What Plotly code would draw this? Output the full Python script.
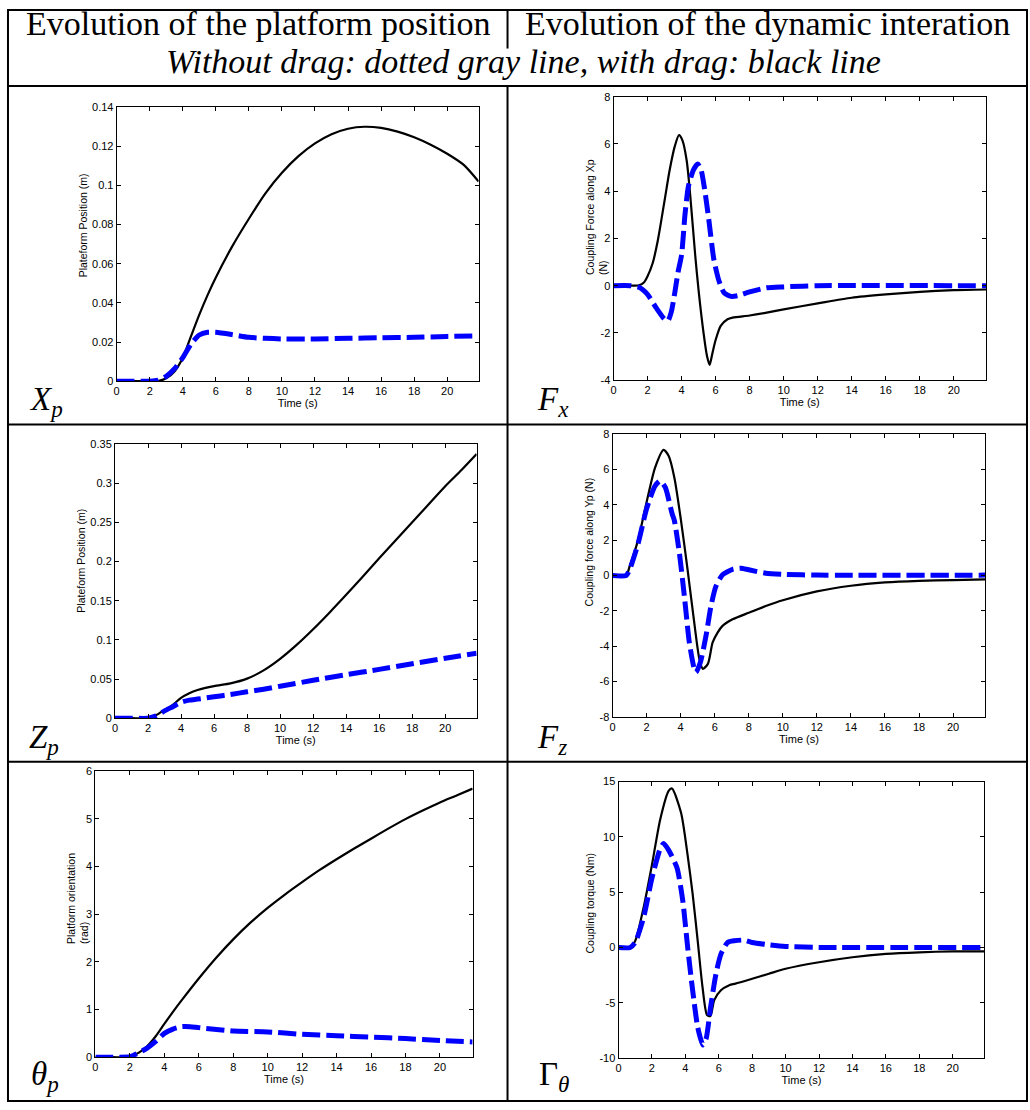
import plotly.graph_objects as go

# ---------------- data ----------------
# Platform position X_p (m)
t_xp_drag = [0, 1, 2, 2.6, 3, 3.5, 4, 4.5, 5, 5.5, 6, 7, 8, 9, 10, 11, 12, 13, 14, 15, 16, 17, 18, 19, 20, 21, 21.9]
xp_drag = [0, 0, 0, 0.0003, 0.0015, 0.005, 0.012, 0.023, 0.034, 0.044, 0.053, 0.069, 0.083, 0.096, 0.1065, 0.115,
           0.1215, 0.1262, 0.129, 0.130, 0.1294, 0.1275, 0.1246, 0.1208, 0.1162, 0.1105, 0.102]
t_xp_free = [0, 1, 2, 2.5, 3, 3.5, 4, 4.5, 5, 5.5, 6, 7, 8, 9, 10, 12, 14, 16, 18, 20, 21.9]
xp_free = [0, 0, 0, 0.0005, 0.0025, 0.0064, 0.012, 0.019, 0.0236, 0.025, 0.025, 0.0238, 0.0224, 0.0219, 0.0216,
           0.0216, 0.0219, 0.0222, 0.0224, 0.0229, 0.0232]

# Coupling force along Xp (N)
t_fx_drag = [0, 1, 1.5, 1.8, 2.0, 2.3, 2.6, 3.0, 3.3, 3.6, 3.85, 4.05, 4.3, 4.5, 4.8, 5.0, 5.3, 5.5, 5.65, 5.8, 6.0,
             6.3, 6.7, 7, 8, 9, 10, 12, 14, 16, 18, 20, 21.9]
fx_drag = [0, 0, 0.02, 0.15, 0.4, 0.95, 1.9, 3.6, 4.9, 5.9, 6.37, 6.15, 5.3, 3.9, 1.3, -0.2, -2.05, -3.0, -3.35, -2.9,
           -2.3, -1.7, -1.42, -1.35, -1.26, -1.14, -1.0, -0.75, -0.51, -0.37, -0.26, -0.19, -0.16]
t_fx_free = [0, 1, 1.5, 2, 2.5, 3, 3.2, 3.4, 3.6, 3.8, 4.0, 4.2, 4.4, 4.7, 4.95, 5.15, 5.35, 5.6, 5.9, 6.2, 6.5, 6.9,
             7.3, 8, 9, 10, 12, 21.9]
fx_free = [0, 0, -0.07, -0.37, -0.93, -1.42, -1.48, -1.1, -0.3, 0.6, 1.3, 3.0, 4.2, 4.9, 5.15, 4.9, 4.1, 2.8, 1.1,
           0.2, -0.3, -0.45, -0.42, -0.26, -0.09, -0.05, 0, 0]

# Platform position Z_p (m)
t_zp_drag = [0, 1, 2, 2.5, 3, 3.5, 4, 4.5, 5, 6, 7, 8, 9, 10, 11, 12, 13, 14, 15, 16, 17, 18, 19, 20, 21, 21.9]
zp_drag = [0, 0, 0, 0.004, 0.0105, 0.017, 0.026, 0.032, 0.036, 0.041, 0.0445, 0.0505, 0.061, 0.0757, 0.0935, 0.1135,
           0.135, 0.1575, 0.1805, 0.204, 0.227, 0.250, 0.273, 0.296, 0.317, 0.337]
t_zp_free = [0, 1, 2, 2.5, 3, 3.5, 4, 4.5, 5, 6, 7, 8, 9, 10, 12, 14, 16, 18, 20, 21.9]
zp_free = [0, 0, 0, 0.003, 0.0093, 0.0147, 0.0202, 0.0231, 0.0244, 0.0273, 0.0303, 0.0337, 0.037, 0.0408, 0.0484,
           0.0555, 0.0623, 0.0694, 0.0766, 0.0829]

# Coupling force along Yp (N)
t_fz_drag = [0, 0.8, 1, 1.5, 2, 2.5, 3, 3.3, 3.63, 4.02, 4.41, 4.8, 5.1, 5.3, 5.6, 5.88, 6.17, 6.46, 7.05, 8, 9, 10,
             12, 14, 16, 18, 20, 21.9]
fz_drag = [0, 0, 0.5, 2.0, 4.14, 6.1, 7.1, 6.75, 5.54, 3.12, 0.32, -2.67, -4.72, -5.28, -5.0, -3.79, -3.23, -2.85,
           -2.48, -2.11, -1.73, -1.40, -0.90, -0.58, -0.39, -0.30, -0.26, -0.22]
t_fz_free = [0, 0.8, 1, 1.5, 2, 2.5, 2.8, 3.1, 3.5, 3.63, 3.93, 4.22, 4.51, 4.8, 4.9, 5.16, 5.49, 5.78, 6.07, 6.46,
             7.05, 7.54, 8, 9, 10, 12, 21.9]
fz_free = [0, 0, 0.32, 1.8, 3.77, 5.07, 5.35, 4.98, 3.49, 3.12, 1.25, -1.18, -3.79, -5.28, -5.47, -4.91, -3.41, -1.74,
           -0.62, 0.04, 0.35, 0.41, 0.32, 0.13, 0.07, 0.02, 0.02]

# Platform orientation theta_p (rad)
t_th_drag = [0, 1, 1.9, 2.5, 3, 3.5, 4, 4.5, 5, 6, 7, 8, 9, 10, 11, 12, 13, 14, 15, 16, 17, 18, 19, 20, 21, 21.9]
th_drag = [0, 0, 0, 0.09, 0.23, 0.44, 0.70, 0.95, 1.19, 1.65, 2.08, 2.47, 2.82, 3.13, 3.41, 3.67, 3.92, 4.15, 4.37,
           4.58, 4.79, 4.99, 5.17, 5.34, 5.49, 5.63]
t_th_free = [0, 1, 2, 2.5, 3, 3.5, 4, 4.5, 5, 5.5, 6, 8, 10, 12, 14, 16, 18, 20, 21.9]
th_free = [0, 0, 0.01, 0.09, 0.19, 0.33, 0.50, 0.59, 0.64, 0.64, 0.62, 0.55, 0.53, 0.48, 0.45, 0.42, 0.39, 0.35, 0.32]

# Coupling torque (Nm)
t_gt_drag = [0, 0.7, 1, 1.5, 2, 2.5, 3, 3.2, 3.74, 4.14, 4.44, 4.74, 5.03, 5.3, 5.5, 5.73, 6.13, 6.63, 7, 8, 9, 10,
             12, 14, 16, 18, 20, 21.9]
gt_drag = [0, 0, 0.6, 3.6, 7.46, 11.6, 14.16, 14.37, 12.2, 8.3, 4.8, 0.6, -3.6, -6.1, -6.2, -4.75, -3.86, -3.4,
           -3.26, -2.82, -2.37, -1.92, -1.33, -0.88, -0.58, -0.43, -0.35, -0.35]
t_gt_free = [0, 0.7, 1, 1.5, 2, 2.5, 2.7, 3.0, 3.5, 3.84, 4.14, 4.44, 4.74, 5.05, 5.25, 5.5, 5.83, 6.13, 6.53, 6.93,
             7.5, 8, 9, 10, 12, 21.9]
gt_free = [0, 0, 0.46, 2.7, 6.27, 8.95, 9.4, 8.8, 7.2, 4.3, 0, -3.9, -7.2, -8.8, -8.2, -5.5, -2.4, -0.6, 0.46, 0.61,
           0.67, 0.46, 0.25, 0.1, 0.01, 0.01]

# tick labels
x_ticks = [0, 2, 4, 6, 8, 10, 12, 14, 16, 18, 20]
xp_ticks = [0, 0.02, 0.04, 0.06, 0.08, 0.1, 0.12, 0.14]
xp_tick_text = ["0", "0.02", "0.04", "0.06", "0.08", "0.1", "0.12", "0.14"]
fx_ticks = [-4, -2, 0, 2, 4, 6, 8]
fx_tick_text = ["-4", "-2", "0", "2", "4", "6", "8"]
zp_ticks = [0, 0.05, 0.1, 0.15, 0.2, 0.25, 0.3, 0.35]
zp_tick_text = ["0", "0.05", "0.1", "0.15", "0.2", "0.25", "0.3", "0.35"]
fz_ticks = [-8, -6, -4, -2, 0, 2, 4, 6, 8]
fz_tick_text = ["-8", "-6", "-4", "-2", "0", "2", "4", "6", "8"]
th_ticks = [0, 1, 2, 3, 4, 5, 6]
th_tick_text = ["0", "1", "2", "3", "4", "5", "6"]
gt_ticks = [-10, -5, 0, 5, 10, 15]
gt_tick_text = ["-10", "-5", "0", "5", "10", "15"]

T_MAX = 21.9

# ---------------- layout helpers ----------------
W, H = 1030, 1110
SANS = "Liberation Sans, Arial, sans-serif"
SERIF = "Liberation Serif, Times New Roman, serif"


def px(xp):
    return xp / W


def py(yp):
    return 1 - yp / H


fig = go.Figure()

panels = [
    # (t_drag, y_drag, t_free, y_free, x-domain px, y-domain px, y-range, ticks, ticktext)
    (t_xp_drag, xp_drag, t_xp_free, xp_free, (114, 477), (102.3, 379.3), (0, 0.14), xp_ticks, xp_tick_text),
    (t_fx_drag, fx_drag, t_fx_free, fx_free, (612.3, 986), (91.7, 378.3), (-4, 8), fx_ticks, fx_tick_text),
    (t_zp_drag, zp_drag, t_zp_free, zp_free, (112.3, 475), (442.7, 720), (0, 0.35), zp_ticks, zp_tick_text),
    (t_fz_drag, fz_drag, t_fz_free, fz_free, (611.3, 985.3), (432.7, 718.7), (-8, 8), fz_ticks, fz_tick_text),
    (t_th_drag, th_drag, t_th_free, th_free, (92.7, 471), (773.3, 1062.7), (0, 6), th_ticks, th_tick_text),
    (t_gt_drag, gt_drag, t_gt_free, gt_free, (617.3, 984.3), (784, 1063.7), (-10, 15), gt_ticks, gt_tick_text),
]

layout_axes = {}
for i, (td, yd, tf, yf, xdom, ydom, yr, yt, ytt) in enumerate(panels, start=1):
    xa = "x" if i == 1 else f"x{i}"
    ya = "y" if i == 1 else f"y{i}"
    fig.add_trace(go.Scatter(x=td, y=yd, xaxis=xa, yaxis=ya, mode="lines",
                             line=dict(color="black", width=2.2, shape="spline", smoothing=0.7),
                             showlegend=False, hoverinfo="skip"))
    fig.add_trace(go.Scatter(x=tf, y=yf, xaxis=xa, yaxis=ya, mode="lines",
                             line=dict(color="#0000ff", width=5, dash="18px,6px", shape="spline", smoothing=0.6),
                             showlegend=False, hoverinfo="skip"))
    axis_common = dict(showline=True, linecolor="black", linewidth=1, mirror="ticks", ticks="inside",
                       ticklen=4, tickwidth=1, tickcolor="black", showgrid=False, zeroline=False,
                       tickfont=dict(family=SANS, size=11, color="black"))
    layout_axes["xaxis" if i == 1 else f"xaxis{i}"] = dict(
        axis_common, domain=[px(xdom[0]), px(xdom[1])], anchor=ya, range=[0, T_MAX],
        tickvals=x_ticks, ticktext=[str(v) for v in x_ticks],
        title=dict(text="Time (s)", font=dict(family=SANS, size=11, color="black"), standoff=2))
    layout_axes["yaxis" if i == 1 else f"yaxis{i}"] = dict(
        axis_common, domain=[py(ydom[1]), py(ydom[0])], anchor=xa, range=list(yr),
        tickvals=yt, ticktext=ytt)

fig.update_layout(**layout_axes)

# ---------------- y-axis titles ----------------
y_titles = [
    ("Plateform Position (m)", 80, 222),
    ("Coupling Force along Xp<br>(N)", 595, 213),
    ("Plateform Position (m)", 78, 561),
    ("Coupling force along Yp (N)", 588, 542),
    ("Platform orientation<br>(rad)", 75, 902),
    ("Coupling torque (Nm)", 589, 907),
]
annotations = []
for text, xc, yc in y_titles:
    annotations.append(dict(text=text, x=px(xc), y=py(yc), xref="paper", yref="paper", showarrow=False,
                            textangle=-90, align="left", xanchor="center", yanchor="middle",
                            font=dict(family=SANS, size=10.5, color="black")))

# ---------------- row symbols ----------------
row_labels = [
    ("<i>X</i><sub><i>p</i></sub>", 24, 400),
    ("<i>F</i><sub><i>x</i></sub>", 534, 400),
    ("<i>Z</i><sub><i>p</i></sub>", 24, 742),
    ("<i>F</i><sub><i>z</i></sub>", 534, 742),
    ("<i>θ</i><sub><i>p</i></sub>", 26, 1082),
    ("Γ<sub><i>θ</i></sub>", 536, 1082),
]
for text, xl, yc in row_labels:
    annotations.append(dict(text=text, x=px(xl), y=py(yc), xref="paper", yref="paper", showarrow=False,
                            xanchor="left", yanchor="middle",
                            font=dict(family=SERIF, size=33, color="black")))

# ---------------- header ----------------
annotations.append(dict(text="Evolution of the platform position", x=px(256), y=py(18), xref="paper",
                        yref="paper", showarrow=False, xanchor="center", yanchor="middle",
                        font=dict(family=SERIF, size=34, color="black")))
annotations.append(dict(text="Evolution of the dynamic interation", x=px(767), y=py(18), xref="paper",
                        yref="paper", showarrow=False, xanchor="center", yanchor="middle",
                        font=dict(family=SERIF, size=34, color="black")))
annotations.append(dict(text="<i>Without drag: dotted gray line, with drag: black line</i>", x=px(522), y=py(56),
                        xref="paper", yref="paper", showarrow=False, xanchor="center", yanchor="middle",
                        font=dict(family=SERIF, size=34, color="black")))

# ---------------- table rules ----------------
rule = dict(color="black", width=2)
shapes = [
    dict(type="rect", x0=px(5), x1=px(1027), y0=py(4), y1=py(1107), xref="paper", yref="paper", line=rule),
    dict(type="line", x0=px(5), x1=px(1027), y0=py(81), y1=py(81), xref="paper", yref="paper", line=rule),
    dict(type="line", x0=px(5), x1=px(1027), y0=py(423), y1=py(423), xref="paper", yref="paper", line=rule),
    dict(type="line", x0=px(5), x1=px(1027), y0=py(764), y1=py(764), xref="paper", yref="paper", line=rule),
    dict(type="line", x0=px(506), x1=px(506), y0=py(4), y1=py(43), xref="paper", yref="paper", line=rule),
    dict(type="line", x0=px(506), x1=px(506), y0=py(81), y1=py(1107), xref="paper", yref="paper", line=rule),
]

fig.update_layout(width=W, height=H, margin=dict(l=0, r=0, t=0, b=0), paper_bgcolor="white",
                  plot_bgcolor="white", annotations=annotations, shapes=shapes, showlegend=False)

fig.write_html("out.html")
